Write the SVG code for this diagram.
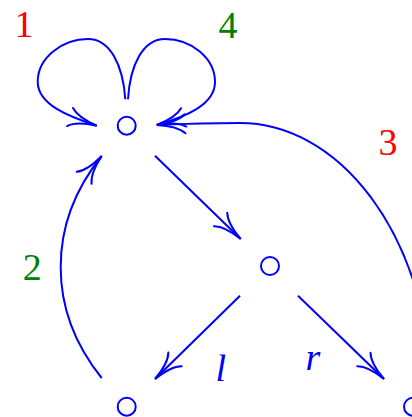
<svg xmlns="http://www.w3.org/2000/svg" width="412" height="417" viewBox="0 0 412 417">
<defs>
<style>
.node{fill:none;stroke:#0000ff;stroke-width:2}
.edge{fill:none;stroke:#0000ff;stroke-width:2;marker-end:url(#arr)}
.lbl{font-family:"Liberation Serif","DejaVu Serif",serif;font-size:38px;text-anchor:middle}
.red{fill:#ff0000}
.green{fill:#008000}
.blue{fill:#0000ff;font-style:italic}
</style>
<marker id="arr" markerUnits="userSpaceOnUse" orient="auto" markerWidth="40" markerHeight="30" refX="0" refY="0" viewBox="-32 -15 40 30" overflow="visible">
<path d="M -28,-9.5 C -22,-3.5 -8,-0.8 0,0 C -8,0.8 -22,3.5 -28,9.5" fill="none" stroke="#0000ff" stroke-width="2" stroke-linecap="round"/>
</marker>
</defs>
<rect width="412" height="417" fill="#ffffff"/>
<g id="connectors">
<path class="edge" d="M125.3,99.3 C123,65 110,39 88,39 C62,39 37.7,58 37.7,81.7 C37.7,105 70,117 96.7,125.7"/>
<path class="edge" d="M128,99.3 C130,65 143,39 165,39 C191,39 215,58 215,82 C215,105 185,117 156.7,125"/>
<path class="edge" d="M431.5,380 A192,277 0 0 0 240,123 C210,123 180,124 157,125"/>
<path class="edge" d="M101.7,378 C47,310 47,224 101.7,156"/>
<path class="edge" d="M155,155.7 L240.7,239"/>
<path class="edge" d="M240,295.7 L155,379"/>
<path class="edge" d="M298,295.7 L384,379"/>
</g>
<g id="n_top"><circle class="node" cx="126.7" cy="125.7" r="9"/></g>
<g id="n_mid"><circle class="node" cx="270" cy="266" r="9"/></g>
<g id="n_left"><circle class="node" cx="126.7" cy="406.7" r="9"/></g>
<g id="n_right"><circle class="node" cx="413" cy="406.7" r="9"/></g>
<g id="labels">
<text class="lbl red" x="24" y="36.5">1</text>
<text class="lbl green" x="228" y="37.5">4</text>
<text class="lbl red" x="388" y="155">3</text>
<text class="lbl green" x="32.3" y="280">2</text>
<text class="lbl blue" x="220.7" y="380.7">l</text>
<text class="lbl blue" x="313" y="370">r</text>
</g>
</svg>
